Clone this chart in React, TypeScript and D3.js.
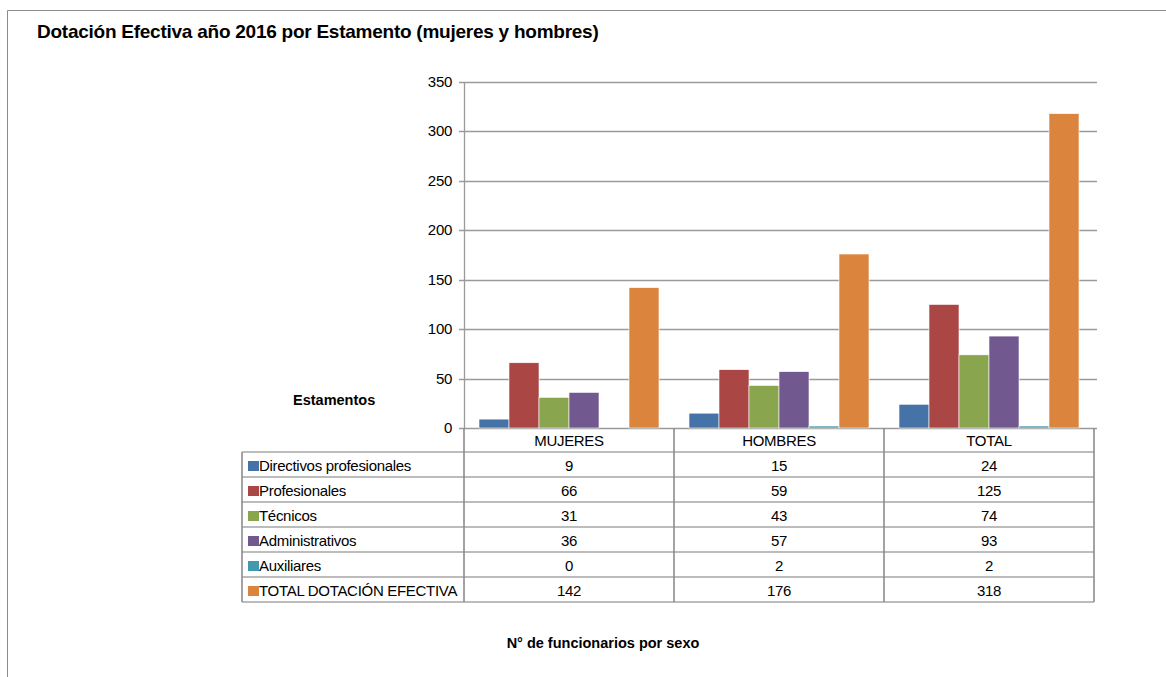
import React, { useRef, useEffect } from "react";
import * as d3 from "d3";

const categories = ["MUJERES", "HOMBRES", "TOTAL"];
const seriesNames = [
  "Directivos profesionales",
  "Profesionales",
  "Técnicos",
  "Administrativos",
  "Auxiliares",
  "TOTAL DOTACIÓN EFECTIVA",
];
const directivos = [9, 15, 24];
const profesionales = [66, 59, 125];
const tecnicos = [31, 43, 74];
const administrativos = [36, 57, 93];
const auxiliares = [0, 2, 2];
const totalDotacion = [142, 176, 318];
const seriesColors = ["#4572A7", "#AA4643", "#89A54E", "#71588F", "#4198AF", "#DB843D"];
const yTicks = [0, 50, 100, 150, 200, 250, 300, 350];

const App = () => {
  const svgRef = useRef(null);

  useEffect(() => {
    const width = 1166;
    const height = 677;
    const svg = d3.select(svgRef.current);
    svg.attr("width", width).attr("height", height);
    svg.selectAll("*").remove();

    const font = "'Liberation Sans', Arial, sans-serif";
    const series = [directivos, profesionales, tecnicos, administrativos, auxiliares, totalDotacion];

    // outer frame
    svg.append("path")
      .attr("d", `M7.5,${height} V10.5 H${width}`)
      .attr("fill", "none")
      .attr("stroke", "#8c8c8c")
      .attr("stroke-width", 1);

    svg.append("text")
      .attr("x", 37)
      .attr("y", 38)
      .attr("font-family", font)
      .attr("font-size", 19)
      .attr("font-weight", "bold")
      .attr("letter-spacing", -0.25)
      .attr("fill", "#000")
      .text("Dotación Efectiva año 2016 por Estamento (mujeres y hombres)");

    const left = 464, right = 1094, top = 82, bottom = 428;

    const x0 = d3.scaleBand().domain(categories).range([left, right]);
    const x1 = d3.scaleBand()
      .domain(seriesNames)
      .range([15, x0.bandwidth() - 15]);
    const y = d3.scaleLinear().domain([0, 350]).range([bottom, top]);

    // gridlines
    svg.append("g")
      .selectAll("line")
      .data(yTicks)
      .enter()
      .append("line")
      .attr("x1", left - 5)
      .attr("x2", right + 3)
      .attr("y1", (d) => Math.round(y(d)) + 0.5)
      .attr("y2", (d) => Math.round(y(d)) + 0.5)
      .attr("stroke", "#9a9a9a")
      .attr("stroke-width", 1.3);

    svg.append("g")
      .selectAll("text")
      .data(yTicks)
      .enter()
      .append("text")
      .attr("x", 452)
      .attr("y", (d) => y(d) + 5)
      .attr("text-anchor", "end")
      .attr("font-family", font)
      .attr("font-size", 15)
      .attr("letter-spacing", -0.3)
      .attr("fill", "#000")
      .text((d) => d);

    // bars
    const groups = svg.append("g")
      .selectAll("g")
      .data(categories)
      .enter()
      .append("g")
      .attr("transform", (d) => `translate(${x0(d)},0)`);

    groups.selectAll("rect")
      .data((c, ci) => seriesNames.map((s, si) => ({ s, si, v: series[si][ci] })))
      .enter()
      .append("rect")
      .attr("x", (d) => x1(d.s))
      .attr("width", x1.bandwidth())
      .attr("y", (d) => y(d.v))
      .attr("height", (d) => bottom - y(d.v))
      .attr("fill", (d) => seriesColors[d.si])
      .attr("stroke", "#fff")
      .attr("stroke-width", 0.6);

    // y axis line
    svg.append("line")
      .attr("x1", left + 0.5).attr("x2", left + 0.5)
      .attr("y1", top).attr("y2", bottom)
      .attr("stroke", "#9a9a9a").attr("stroke-width", 1.3);

    // data table
    const rowH = 25;
    const tableLeft = 242;
    const headerTop = bottom;
    const rowsTop = bottom + 24;
    const tableBottom = rowsTop + rowH * seriesNames.length;
    const tbl = svg.append("g");

    tbl.selectAll("line.h")
      .data(d3.range(seriesNames.length + 1))
      .enter()
      .append("line")
      .attr("x1", tableLeft)
      .attr("x2", right)
      .attr("y1", (i) => rowsTop + i * rowH)
      .attr("y2", (i) => rowsTop + i * rowH)
      .attr("stroke", "#a6a6a6")
      .attr("stroke-width", 1.6);

    const vx = [left, ...categories.map((c) => x0(c) + x0.bandwidth())];
    tbl.selectAll("line.v")
      .data(vx)
      .enter()
      .append("line")
      .attr("x1", (d) => d)
      .attr("x2", (d) => d)
      .attr("y1", headerTop)
      .attr("y2", tableBottom)
      .attr("stroke", "#8c8c8c")
      .attr("stroke-width", 1.6);
    tbl.append("line")
      .attr("x1", tableLeft).attr("x2", tableLeft)
      .attr("y1", rowsTop).attr("y2", tableBottom)
      .attr("stroke", "#8c8c8c").attr("stroke-width", 1.6);

    tbl.selectAll("text.cat")
      .data(categories)
      .enter()
      .append("text")
      .attr("x", (d) => x0(d) + x0.bandwidth() / 2)
      .attr("y", headerTop + 18)
      .attr("text-anchor", "middle")
      .attr("font-family", font)
      .attr("font-size", 15)
      .attr("letter-spacing", -0.3)
      .text((d) => d);

    seriesNames.forEach((name, si) => {
      const ry = rowsTop + si * rowH;
      tbl.append("rect")
        .attr("x", 248)
        .attr("y", ry + 9)
        .attr("width", 11)
        .attr("height", 10)
        .attr("fill", seriesColors[si]);
      tbl.append("text")
        .attr("x", 259)
        .attr("y", ry + 19)
        .attr("font-family", font)
        .attr("font-size", 15)
        .attr("letter-spacing", -0.3)
        .text(name);
      categories.forEach((c, ci) => {
        tbl.append("text")
          .attr("x", x0(c) + x0.bandwidth() / 2)
          .attr("y", ry + 19)
          .attr("text-anchor", "middle")
          .attr("font-family", font)
          .attr("font-size", 15)
          .attr("letter-spacing", -0.3)
          .text(series[si][ci]);
      });
    });

    svg.append("text")
      .attr("x", 293)
      .attr("y", 405)
      .attr("font-family", font)
      .attr("font-size", 14.5)
      .attr("font-weight", "bold")
      .text("Estamentos");

    svg.append("text")
      .attr("x", 603)
      .attr("y", 648)
      .attr("text-anchor", "middle")
      .attr("font-family", font)
      .attr("font-size", 14.5)
      .attr("font-weight", "bold")
      .text("N° de funcionarios por sexo");
  }, []);

  return (
    <svg
      ref={svgRef}
      style={{ position: "absolute", left: 0, top: 0, display: "block", background: "#fff" }}
    />
  );
};

export default App;
